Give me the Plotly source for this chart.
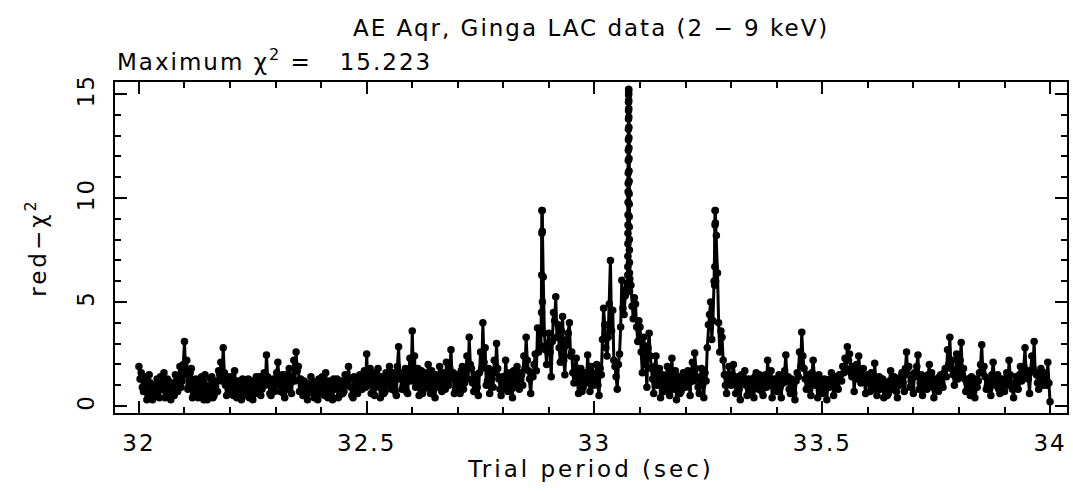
import numpy as np
import plotly.graph_objects as go

# ---------------- data ----------------
TITLE = "AE Aqr, Ginga LAC data (2 − 9 keV)"
MAX_LABEL = "Maximum χ<sup>2</sup> =   15.223"
X_TITLE = "Trial period (sec)"
Y_TITLE = "red−χ<sup>2</sup>"

X_TICKS = [32, 32.5, 33, 33.5, 34]
X_TICK_TEXT = ["32", "32.5", "33", "33.5", "34"]
Y_TICKS = [0, 5, 10, 15]
Y_TICK_TEXT = ["0", "5", "10", "15"]

PERIOD_START = 32.0
PERIOD_STEP = 0.005

# red chi^2 on the coarse grid 32.000, 32.005, ... 34.000
red_chi2 = [
    # 32.000 - 32.095
    1.9, 1.6, 0.7, 1.4, 0.5, 1.1, 0.3, 0.9, 1.3, 0.4, 1.0, 1.6, 0.6, 1.2, 0.3, 0.8, 1.5, 0.7, 1.9, 1.2,
    # 32.100 - 32.195
    3.1, 2.2, 1.0, 1.8, 0.6, 1.3, 0.4, 1.1, 0.7, 1.5, 0.3, 0.9, 1.4, 0.5, 1.2, 1.7, 2.1, 2.8, 1.0, 1.4,
    # 32.200 - 32.295
    0.6, 1.2, 1.7, 0.4, 0.9, 0.3, 1.1, 0.5, 1.3, 0.7, 0.3, 1.0, 0.6, 1.4, 0.8, 1.6, 2.45, 1.2, 0.5, 1.3,
    # 32.300 - 32.395
    1.0, 2.1, 0.7, 1.5, 0.4, 1.2, 1.8, 0.6, 2.2, 2.6, 1.9, 1.3, 0.5, 1.1, 0.3, 0.8, 1.2, 0.4, 0.9, 1.3,
    # 32.400 - 32.495
    0.6, 1.2, 1.6, 0.4, 1.0, 0.3, 0.8, 1.3, 0.5, 1.1, 0.7, 1.4, 1.9, 0.9, 0.4, 1.2, 0.6, 1.5, 0.8, 1.7,
    # 32.500 - 32.595
    2.5, 1.3, 0.6, 1.6, 0.9, 1.8, 0.4, 1.2, 0.7, 1.5, 1.9, 0.8, 1.4, 0.5, 2.85, 1.6, 1.0, 1.8, 0.6, 2.3,
    # 32.600 - 32.695
    3.6, 2.4, 1.1, 0.5, 1.7, 0.8, 1.3, 2.0, 0.6, 1.5, 0.4, 1.2, 1.9, 0.7, 1.4, 2.1, 1.0, 2.7, 1.6, 0.8,
    # 32.700 - 32.795
    1.5, 0.6, 1.9, 1.1, 2.4, 3.3, 1.8, 0.7, 1.4, 0.5, 2.6, 4.0, 2.8, 1.2, 0.6, 1.7, 2.2, 3.0, 1.3, 0.5,
    # 32.800 - 32.895
    1.2, 2.2, 0.7, 1.6, 0.4, 1.3, 1.9, 0.8, 1.5, 2.4, 3.3, 1.7, 0.6, 1.4, 2.5, 3.75, 3.7, 9.4, 3.5, 2.0,
    # 32.900 - 32.995
    3.5, 1.4, 4.5, 5.25, 3.9, 2.1, 4.3, 1.5, 3.2, 4.0, 2.6, 1.1, 2.3, 0.6, 1.8, 0.9, 1.4, 2.45, 0.7, 1.6,
    # 33.000 - 33.095
    1.1, 2.0, 0.5, 1.5, 4.7, 2.8, 3.3, 7.0, 4.6, 1.9, 0.8, 2.5, 6.05, 4.4, 5.6, 15.2, 5.8, 4.2, 4.9, 3.1,
    # 33.100 - 33.195
    3.8, 1.6, 2.9, 0.9, 3.5, 1.8, 0.6, 2.4, 1.2, 0.4, 1.5, 0.8, 1.9, 0.5, 2.3, 1.1, 0.3, 1.4, 0.7, 1.6,
    # 33.200 - 33.295
    0.9, 1.7, 0.5, 2.1, 2.55, 1.3, 0.6, 1.8, 0.4, 1.2, 3.9, 5.0, 4.1, 9.4, 6.4, 2.6, 3.3, 1.5, 0.6, 1.9,
    # 33.300 - 33.395
    1.0, 2.0, 0.6, 1.4, 0.3, 1.1, 1.7, 0.5, 0.9, 1.3, 0.4, 1.6, 0.8, 1.2, 0.5, 1.5, 2.2, 1.0, 0.4, 1.3,
    # 33.400 - 33.495
    0.7, 1.5, 0.4, 1.1, 2.45, 1.4, 0.6, 1.0, 0.3, 1.6, 2.6, 3.55, 1.8, 0.8, 1.3, 0.5, 2.2, 1.0, 0.4, 1.2,
    # 33.500 - 33.595
    0.6, 1.3, 0.3, 0.9, 1.6, 0.5, 1.2, 0.8, 1.5, 1.9, 2.3, 2.85, 2.5, 1.4, 0.7, 2.0, 2.4, 1.1, 1.8, 0.6,
    # 33.600 - 33.695
    1.5, 0.7, 1.2, 2.05, 0.5, 1.4, 0.9, 0.4, 1.1, 0.6, 1.7, 0.8, 1.3, 0.4, 1.0, 1.6, 0.7, 2.6, 1.9, 1.2,
    # 33.700 - 33.795
    0.6, 1.4, 2.45, 1.1, 0.5, 1.3, 0.8, 2.0, 1.6, 0.4, 1.2, 0.7, 1.5, 0.9, 1.8, 2.7, 3.3, 2.2, 1.0, 2.5,
    # 33.800 - 33.895
    1.4, 3.05, 1.8, 0.7, 1.3, 0.5, 1.1, 0.4, 0.9, 1.6, 2.95, 1.9, 0.8, 1.2, 0.5, 2.1, 1.0, 1.5, 0.6, 1.3,
    # 33.900 - 33.995
    0.7, 1.6, 2.2, 1.1, 0.4, 1.4, 0.8, 1.9, 1.3, 2.8, 1.7, 0.6, 2.4, 3.1, 1.5, 0.8, 1.8, 1.0, 1.4, 2.1,
    # 34.000
    0.2,
]

# red chi^2 at the in-between trial periods 32.0025, 32.0075, ... 33.9975
red_chi2_mid = [
    1.3, 0.9, 1.2, 0.3, 1.5, 0.6, 1.0, 0.5, 0.7, 1.4, 0.8, 0.4, 1.3, 0.6, 1.1, 0.5, 1.2, 1.4, 0.9, 2.0,
    1.5, 0.8, 1.6, 0.4, 1.1, 0.9, 0.5, 1.4, 0.3, 1.0, 0.6, 1.3, 0.4, 1.0, 0.7, 1.5, 1.2, 1.6, 0.5, 0.8,
    1.4, 0.5, 1.0, 1.2, 0.4, 1.3, 0.7, 1.0, 0.4, 1.2, 0.6, 1.4, 0.9, 0.5, 1.3, 1.0, 1.4, 0.6, 1.1, 0.7,
    1.6, 1.3, 1.0, 0.6, 1.5, 0.8, 1.1, 1.4, 1.2, 1.7, 0.7, 0.9, 1.2, 0.5, 1.0, 1.4, 0.6, 1.1, 0.3, 0.8,
    1.4, 0.5, 1.0, 1.2, 0.5, 1.3, 1.1, 0.4, 1.2, 0.6, 1.5, 1.0, 1.3, 0.5, 1.4, 0.8, 1.3, 1.0, 1.4, 0.9,
    1.0, 1.8, 1.2, 0.5, 1.5, 1.1, 1.4, 0.6, 1.6, 1.0, 1.3, 1.6, 0.7, 1.9, 1.3, 0.8, 1.5, 0.7, 1.7, 1.2,
    1.5, 0.9, 1.8, 1.2, 0.6, 1.6, 0.9, 1.2, 1.7, 0.8, 1.5, 0.9, 1.4, 1.6, 0.8, 1.5, 1.8, 1.3, 0.6, 1.4,
    1.1, 1.7, 0.8, 1.6, 1.3, 2.0, 1.1, 1.5, 0.9, 1.6, 1.8, 2.1, 1.0, 1.8, 1.3, 0.9, 1.6, 1.8, 0.8, 1.4,
    0.8, 1.5, 1.2, 0.8, 1.7, 0.9, 1.4, 1.6, 1.0, 1.8, 2.2, 1.3, 1.5, 2.0, 1.7, 2.6, 2.9, 6.2, 2.7, 3.0,
    2.6, 3.1, 4.1, 3.3, 2.8, 3.6, 2.2, 2.9, 3.5, 2.4, 1.6, 1.9, 1.2, 1.5, 0.7, 1.6, 1.1, 1.3, 1.9, 1.0,
    1.5, 1.0, 1.8, 3.2, 3.9, 2.4, 4.9, 3.6, 2.2, 1.4, 2.0, 3.8, 4.7, 5.3, 5.9, 6.1, 4.8, 5.2, 3.8, 4.1,
    2.6, 3.3, 2.0, 2.8, 2.4, 1.3, 1.9, 1.0, 1.8, 1.1, 0.7, 1.4, 1.0, 1.6, 0.8, 1.7, 1.0, 0.6, 1.2, 1.0,
    1.3, 1.1, 1.6, 1.2, 1.8, 0.9, 1.4, 1.0, 1.6, 2.8, 4.4, 3.2, 6.0, 8.2, 4.0, 3.6, 2.2, 1.0, 1.5, 1.2,
    1.5, 1.3, 1.1, 0.8, 1.5, 1.2, 1.0, 1.3, 0.6, 1.0, 1.4, 1.1, 1.5, 0.7, 1.3, 0.9, 1.4, 1.7, 1.2, 0.8,
    1.2, 0.9, 1.4, 1.7, 1.2, 0.8, 1.3, 0.6, 1.2, 1.4, 1.9, 2.4, 1.3, 1.5, 0.8, 1.6, 1.4, 1.2, 1.5, 0.9,
    1.1, 0.8, 1.2, 1.3, 1.0, 1.4, 0.9, 1.5, 1.2, 1.6, 1.8, 2.2, 1.6, 1.9, 1.5, 1.3, 1.7, 1.5, 1.2, 1.3,
    1.1, 1.6, 0.8, 1.3, 1.1, 0.8, 1.3, 1.0, 0.5, 1.2, 1.1, 1.4, 0.7, 1.2, 1.4, 1.1, 1.8, 1.5, 0.9, 1.4,
    1.6, 1.9, 0.8, 1.5, 1.0, 1.2, 1.5, 1.1, 0.9, 1.3, 1.0, 1.4, 1.1, 1.6, 1.4, 2.0, 1.8, 1.5, 1.7, 1.3,
    2.2, 1.5, 1.3, 1.1, 0.9, 1.4, 0.7, 1.3, 1.2, 2.0, 1.6, 1.4, 1.0, 0.8, 1.5, 1.4, 1.3, 0.8, 1.2, 1.0,
    1.3, 1.0, 1.5, 0.8, 1.1, 1.0, 1.5, 1.2, 1.9, 1.6, 1.3, 1.7, 1.8, 1.6, 1.1, 1.4, 1.2, 1.6, 1.0, 1.1,
]

period = np.round(PERIOD_START + PERIOD_STEP * np.arange(len(red_chi2)), 4)
period_mid = np.round(PERIOD_START + PERIOD_STEP * (np.arange(len(red_chi2_mid)) + 0.5), 5)

all_period = np.concatenate([period, period_mid])
all_chi2 = np.concatenate([np.array(red_chi2, float), np.array(red_chi2_mid, float)])
order = np.argsort(all_period, kind="stable")
all_period = all_period[order]
all_chi2 = all_chi2[order]

# finely sampled trial periods around the strongest peaks
main_peak_start = 33.0730
main_peak_step = 0.0001
main_peak_chi2 = [
    5.8, 6.3, 6.7, 7.2, 7.8, 8.3, 8.7, 9.2, 9.8, 10.3, 10.7, 11.2, 11.8, 12.3, 12.8,
    13.3, 13.8, 14.2, 14.6, 14.95, 15.223,
    15.05, 14.7, 14.3, 13.9, 13.4, 12.9, 12.4, 11.9, 11.3, 10.8, 10.2, 9.7, 9.1, 8.6,
    8.0, 7.5, 6.9, 6.4, 5.9, 5.5,
]
main_peak_period = np.round(main_peak_start + main_peak_step * np.arange(len(main_peak_chi2)), 5)

left_peak_period = [32.8838, 32.8842, 32.8846, 32.8850, 32.8854, 32.8858]
left_peak_chi2 = [4.5, 6.3, 8.3, 9.4, 8.4, 5.0]

right_peak_period = [33.2638, 33.2642, 33.2646, 33.2650, 33.2654, 33.2658]
right_peak_chi2 = [5.8, 6.7, 8.7, 9.4, 8.8, 6.0]

# ---------------- figure ----------------
FONT = "DejaVu Sans"
FS = 23


def spaced(s, px=2):
    return f'<span style="letter-spacing:{px}px">{s}</span>'


fig = go.Figure()
style = dict(mode="lines+markers", line=dict(color="black", width=3),
             marker=dict(color="black", size=7.5, symbol="circle"),
             showlegend=False, hoverinfo="skip")
fig.add_trace(go.Scatter(x=all_period, y=all_chi2, **style))
fig.add_trace(go.Scatter(x=main_peak_period, y=main_peak_chi2, **style))
fig.add_trace(go.Scatter(x=left_peak_period, y=left_peak_chi2, **style))
fig.add_trace(go.Scatter(x=right_peak_period, y=right_peak_chi2, **style))

fig.update_layout(
    width=1073, height=492,
    margin=dict(l=115, r=4, t=82, b=79),
    paper_bgcolor="white", plot_bgcolor="white",
    font=dict(family=FONT, size=FS, color="black"),
)

fig.update_xaxes(
    range=[31.9475, 34.0372],
    tickvals=X_TICKS, ticktext=[spaced(t) for t in X_TICK_TEXT],
    ticks="inside", ticklen=12, tickwidth=1.5, tickcolor="black",
    minor=dict(dtick=0.1, ticks="inside", ticklen=6, tickwidth=1.5, tickcolor="black"),
    showline=True, linecolor="black", linewidth=2, mirror="allticks",
    showgrid=False, zeroline=False,
    ticklabelstandoff=8,
    title=dict(text=spaced(X_TITLE, 3), standoff=4, font=dict(family=FONT, size=FS)),
)
fig.update_yaxes(
    range=[-0.337, 15.577],
    tickvals=Y_TICKS, ticktext=[spaced(t) for t in Y_TICK_TEXT], tickangle=-90,
    ticks="inside", ticklen=12, tickwidth=1.5, tickcolor="black",
    minor=dict(dtick=1, ticks="inside", ticklen=6, tickwidth=1.5, tickcolor="black"),
    showline=True, linecolor="black", linewidth=2, mirror="allticks",
    showgrid=False, zeroline=False,
    ticklabelstandoff=10,
    title=dict(text=spaced(Y_TITLE, 3), standoff=20, font=dict(family=FONT, size=FS)),
)

fig.add_annotation(text=spaced(TITLE), xref="paper", yref="paper", x=0.5, y=1.163,
                   xanchor="center", yanchor="middle", showarrow=False,
                   font=dict(family=FONT, size=FS))
fig.add_annotation(text=spaced(MAX_LABEL), xref="paper", yref="paper", x=0.0, y=1.066,
                   xanchor="left", yanchor="middle", showarrow=False,
                   font=dict(family=FONT, size=FS))

fig.write_html("out.html")
